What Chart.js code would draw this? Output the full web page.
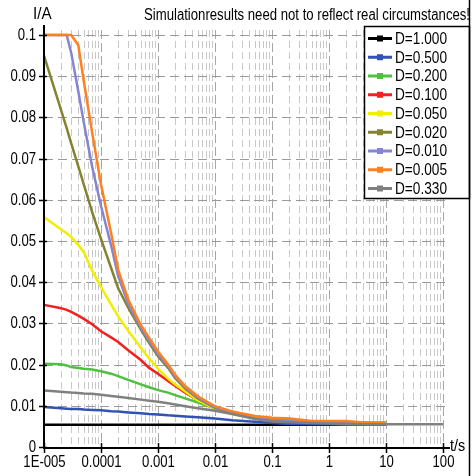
<!DOCTYPE html>
<html><head><meta charset="utf-8">
<script src="https://cdn.jsdelivr.net/npm/chart.js@4"></script>
<style>html,body{margin:0;padding:0;background:#fff;}canvas{display:block}</style>
</head><body>
<canvas id="c" width="474" height="476"></canvas>
<script>
// ---------- DATA ----------
const times = [1e-5, 2e-5, 2.5e-5, 3e-5, 4e-5, 5e-5, 7e-5, 1e-4, 1.5e-4, 2e-4, 3e-4, 5e-4, 7e-4,
  1e-3, 1.5e-3, 2e-3, 3e-3, 5e-3, 1e-2, 2e-2, 5e-2, 0.1, 0.2, 0.5, 1, 2, 5, 10, 100];

const seriesLabels = ['D=1.000', 'D=0.500', 'D=0.200', 'D=0.100', 'D=0.050', 'D=0.020', 'D=0.010', 'D=0.005', 'D=0.330'];
const seriesColors = ['#000000', '#3152b4', '#4fc040', '#f22020', '#f2ee00', '#838330', '#8585d2', '#ff8020', '#808080'];

const iD1000 = [.0054,.0054,.0054,.0054,.0054,.0054,.0054,.0054,.0054,.0054,.0054,.0054,.0054,
  .0054,.0054,.0054,.0054,.0054,.0054,.0054,.0054,.0054,.0054,.0054,.0054,.0054,.0054,.0054,null];
const iD0500 = [.0097,.0094,.0093,.0092,.0092,.0091,.0090,.0089,.0087,.0086,.0084,.0082,.0080,
  .0079,.0077,.0076,.0074,.0072,.0069,.0065,.0061,.0058,.0056,.0055,.0055,.0054,.0054,.0054,null];
const iD0200 = [.0202,.0201,.0198,.0194,.0192,.0190,.0188,.0184,.0178,.0172,.0163,.0152,.0145,
  .0138,.0132,.0126,.0118,.0108,.0094,.0082,.0071,.0066,.0063,.0060,.0059,.0058,.0057,.0057,null];
const iD0100 = [.0345,.0337,.0333,.0328,.0319,.0311,.0298,.0281,.0266,.0255,.0235,.0211,.0192,
  .0178,.0160,.0148,.0132,.0114,.0094,.0081,.0071,.0066,.0063,.0061,.0060,.0059,.0058,.0058,null];
const iD0050 = [.0558,.0528,.0519,.0510,.0490,.0473,.0428,.0388,.0346,.0317,.0282,.0241,.0215,
  .0190,.0166,.0152,.0135,.0113,.0093,.0080,.0070,.0066,.0063,.0061,.0060,.0059,.0058,.0058,null];
const iD0020 = [.0950,.0817,.0774,.0737,.0681,.0637,.0570,.0505,.0435,.0385,.0338,.0285,.0252,
  .0220,.0192,.0167,.0142,.0118,.0095,.0082,.0071,.0067,.0064,.0062,.0061,.0060,.0059,.0059,null];
const iD0010 = [.1000,.1000,.1000,.0957,.0863,.0787,.0680,.0585,.0490,.0415,.0348,.0290,.0258,
  .0226,.0197,.0171,.0145,.0120,.0097,.0084,.0073,.0068,.0065,.0061,.0060,.0058,.0056,.0056,null];
const iD0005 = [.1000,.1000,.1000,.1000,.0975,.0887,.0763,.0637,.0520,.0430,.0358,.0296,.0265,
  .0232,.0201,.0175,.0148,.0123,.0099,.0086,.0075,.0071,.0069,.0063,.0063,.0063,.0058,.0058,null];
const iD0330 = [.0137,.0134,.0133,.0132,.0131,.0130,.0129,.0127,.0124,.0122,.0119,.0115,.0112,
  .0110,.0106,.0103,.0099,.0094,.0088,.0080,.0068,.0062,.0060,.0058,.0057,.0056,.0055,.0055,.0055];

const seriesValues = [iD1000, iD0500, iD0200, iD0100, iD0050, iD0020, iD0010, iD0005, iD0330];

const xDecades = [1e-5, 1e-4, 1e-3, 1e-2, 0.1, 1, 10, 100];
const xTickLabels = ['1E-005', '0.0001', '0.001', '0.01', '0.1', '1', '10', '100'];
const xMinorMultipliers = [2, 3, 4, 5, 6, 7, 8, 9];
const yTicks = [0, 0.01, 0.02, 0.03, 0.04, 0.05, 0.06, 0.07, 0.08, 0.09, 0.1];
const yTickLabels = ['0', '0.01', '0.02', '0.03', '0.04', '0.05', '0.06', '0.07', '0.08', '0.09', '0.1'];
const titleText = 'Simulationresults need not to reflect real circumstances!';
const yAxisTitle = 'I/A';
const xAxisTitle = 't/s';

// ---------- CHART ----------
const FAMILY = "'Liberation Sans', Arial, sans-serif";
const FONT = "16px " + FAMILY;
const SQUEEZE = 0.82;

const xTickValues = [];
xDecades.forEach((d, i) => {
  xTickValues.push(d);
  if (i < xDecades.length - 1) xMinorMultipliers.forEach(m => xTickValues.push(d * m));
});
function decadeIndex(v) { return xDecades.findIndex(d => Math.abs(d - v) / d < 1e-6); }

function narrowText(ctx, text, x, y, align, baseline, sq) {
  ctx.save();
  ctx.translate(x, y);
  ctx.scale(sq || SQUEEZE, 1);
  ctx.textAlign = align;
  ctx.textBaseline = baseline;
  ctx.fillText(text, 0, 0);
  ctx.restore();
}

const decor = {
  id: 'decor',
  beforeDatasetsDraw(chart) {
    const { ctx, chartArea: a, scales: { x, y } } = chart;
    ctx.save();
    ctx.lineWidth = 1;
    x.ticks.forEach(t => {
      const px = Math.round(x.getPixelForValue(t.value)) + 0.5;
      const major = decadeIndex(t.value) >= 0;
      ctx.strokeStyle = major ? '#a6a6a6' : '#c8c8c8';
      ctx.setLineDash(major ? [9, 4] : [7, 4]);
      ctx.beginPath(); ctx.moveTo(px, a.top - 5); ctx.lineTo(px, a.bottom); ctx.stroke();
    });
    y.ticks.forEach(t => {
      if (t.value === 0) return;
      const py = Math.round(y.getPixelForValue(t.value)) + 0.5;
      ctx.strokeStyle = '#9a9a9a';
      ctx.setLineDash([9, 5]);
      ctx.beginPath(); ctx.moveTo(a.left, py); ctx.lineTo(a.right + 7, py); ctx.stroke();
    });
    ctx.restore();
  },
  afterDatasetsDraw(chart) {
    const { ctx, chartArea: a, scales: { x, y } } = chart;
    ctx.save();
    ctx.setLineDash([]);
    ctx.strokeStyle = '#000';
    ctx.lineWidth = 2;
    // axes
    ctx.beginPath(); ctx.moveTo(a.left, a.top - 10); ctx.lineTo(a.left, a.bottom + 2); ctx.stroke();
    ctx.beginPath(); ctx.moveTo(a.left - 1, a.bottom + 1); ctx.lineTo(a.right + 7, a.bottom + 1); ctx.stroke();
    // tick marks + tick labels
    ctx.font = FONT;
    ctx.fillStyle = '#000';
    ctx.lineWidth = 1.5;
    y.ticks.forEach(t => {
      const py = Math.round(y.getPixelForValue(t.value)) + 0.5;
      ctx.beginPath(); ctx.moveTo(a.left - 5, py); ctx.lineTo(a.left + 3, py); ctx.stroke();
      narrowText(ctx, yTickLabels[Math.round(t.value * 100)], a.left - 8, py, 'right', 'middle');
    });
    x.ticks.forEach(t => {
      const k = decadeIndex(t.value);
      if (k < 0) return;
      const px = Math.round(x.getPixelForValue(t.value)) + 0.5;
      ctx.beginPath(); ctx.moveTo(px, a.bottom - 4); ctx.lineTo(px, a.bottom + 6); ctx.stroke();
      narrowText(ctx, xTickLabels[k], px, a.bottom + 16, 'center', 'middle');
    });
    // legend
    const lx = 364, ly = 26, lw = 105, lh = 172, rowH = 18.75;
    ctx.fillStyle = '#fff';
    ctx.fillRect(lx, ly, lw, lh);
    ctx.lineWidth = 1.5;
    ctx.strokeStyle = '#000';
    ctx.strokeRect(lx + 0.5, ly + 0.5, lw, lh);
    const legSq = 52 / ctx.measureText(seriesLabels[0]).width;
    chart.data.datasets.forEach((ds, i) => {
      const cy = ly + 12.5 + i * rowH;
      ctx.strokeStyle = ds.borderColor;
      ctx.lineWidth = 3;
      ctx.beginPath(); ctx.moveTo(lx + 4, cy); ctx.lineTo(lx + 28, cy); ctx.stroke();
      ctx.fillStyle = ds.borderColor;
      ctx.fillRect(lx + 13, cy - 3, 6, 6);
      ctx.fillStyle = '#000';
      narrowText(ctx, ds.label, lx + 31, cy + 1, 'left', 'middle', legSq);
    });
    // titles
    ctx.fillStyle = '#000';
    const titleSq = 326 / ctx.measureText(titleText).width;
    narrowText(ctx, titleText, 470, 20, 'right', 'alphabetic', titleSq);
    narrowText(ctx, yAxisTitle, 33, 19, 'left', 'alphabetic', 0.95);
    narrowText(ctx, xAxisTitle, 450, 447, 'left', 'middle', 0.9);
    // right frame line
    ctx.strokeStyle = '#000';
    ctx.lineWidth = 1.5;
    ctx.beginPath(); ctx.moveTo(469.5, 0); ctx.lineTo(469.5, 476); ctx.stroke();
    ctx.restore();
  }
};

const datasets = seriesLabels.map((lab, i) => ({
  label: lab,
  data: times.map((t, k) => ({ x: t, y: seriesValues[i][k] })),
  borderColor: seriesColors[i],
  backgroundColor: seriesColors[i],
  borderWidth: 2.5,
  pointRadius: 0,
  tension: 0,
  fill: false,
  clip: false,
  order: 20 - i
}));

new Chart(document.getElementById('c'), {
  type: 'line',
  data: { datasets },
  plugins: [decor],
  options: {
    responsive: false,
    animation: false,
    devicePixelRatio: 1,
    layout: { padding: { top: 35, right: 31, left: 0, bottom: 0 } },
    plugins: { legend: { display: false }, tooltip: { enabled: false } },
    scales: {
      x: {
        type: 'logarithmic', min: 1e-5, max: 100,
        afterBuildTicks: s => { s.ticks = xTickValues.map(v => ({ value: v, major: decadeIndex(v) >= 0 })); },
        afterFit: s => { s.height = 29; },
        grid: { display: false, drawTicks: false },
        border: { display: false },
        ticks: { display: false, autoSkip: false }
      },
      y: {
        type: 'linear', min: 0, max: 0.1,
        afterBuildTicks: s => { s.ticks = yTicks.map(v => ({ value: v })); },
        afterFit: s => { s.width = 44; },
        grid: { display: false, drawTicks: false },
        border: { display: false },
        ticks: { display: false }
      }
    }
  }
});
</script>
</body></html>
